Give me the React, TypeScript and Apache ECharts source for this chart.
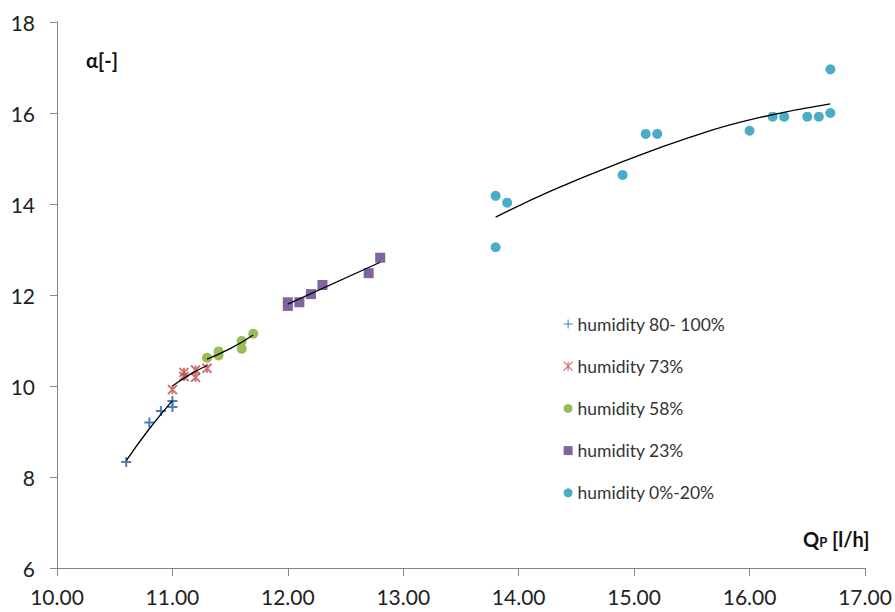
import React, { useEffect, useRef } from "react";
import * as echarts from "echarts";

// ---- data ----
const seriesNames = [
  "humidity 80- 100%",
  "humidity 73%",
  "humidity 58%",
  "humidity 23%",
  "humidity 0%-20%",
];

const humidity80to100: [number, number][] = [
  [10.6, 8.33],
  [10.8, 9.2],
  [10.9, 9.45],
  [11.0, 9.67],
  [11.0, 9.54],
];
const humidity73: [number, number][] = [
  [11.0, 9.92],
  [11.1, 10.3],
  [11.1, 10.21],
  [11.2, 10.35],
  [11.2, 10.19],
  [11.3, 10.39],
];
const humidity58: [number, number][] = [
  [11.3, 10.62],
  [11.4, 10.76],
  [11.4, 10.67],
  [11.6, 10.99],
  [11.6, 10.82],
  [11.7, 11.15],
];
const humidity23: [number, number][] = [
  [12.0, 11.76],
  [12.0, 11.84],
  [12.1, 11.84],
  [12.2, 12.02],
  [12.3, 12.22],
  [12.7, 12.48],
  [12.8, 12.82],
];
const humidity0to20: [number, number][] = [
  [13.8, 14.18],
  [13.8, 13.05],
  [13.9, 14.03],
  [14.9, 14.64],
  [15.1, 15.54],
  [15.2, 15.54],
  [16.0, 15.61],
  [16.2, 15.92],
  [16.3, 15.92],
  [16.5, 15.92],
  [16.6, 15.92],
  [16.7, 16.0],
  [16.7, 16.96],
];

// trend lines
const trend80to100: [number, number][] = [
  [10.6, 8.36],
  [10.8, 9.06],
  [11.0, 9.68],
];
const trend73: [number, number][] = [
  [11.0, 10.0],
  [11.15, 10.25],
  [11.3, 10.45],
];
const trend58: [number, number][] = [
  [11.3, 10.59],
  [11.5, 10.82],
  [11.7, 11.12],
];
const trend23: [number, number][] = [
  [12.0, 11.8],
  [12.8, 12.72],
];
const trend0to20: [number, number][] = [
  [13.8, 13.71],
  [14.3, 14.31],
  [14.9, 14.93],
  [15.5, 15.48],
  [16.0, 15.85],
  [16.7, 16.2],
];

const xMin = 10;
const xMax = 17;
const xStep = 1;
const yMin = 6;
const yMax = 18;
const yStep = 2;

const FONT = "Lato, 'Open Sans', sans-serif";
const AXIS_GRAY = "#868686";
const TEXT = "#222";

export default function App() {
  const ref = useRef<HTMLDivElement>(null);

  useEffect(() => {
    if (!ref.current) return;
    const chart = echarts.init(ref.current, undefined, { renderer: "svg" });

    const colors = ["#4A7EBB", "#C0504D", "#9BBB59", "#8064A2", "#4BACC6"];
    const symbols = [
      "path://M4,0H6V4H10V6H6V10H4V6H0V4H4Z",
      "path://M0,0L10,10M10,0L0,10M5,0L5,10",
      "circle",
      "rect",
      "circle",
    ];
    const sizes = [10, 9, 10, 10, 10];
    const datas = [humidity80to100, humidity73, humidity58, humidity23, humidity0to20];
    const trends = [trend80to100, trend73, trend58, trend23, trend0to20];

    const scatterSeries = datas.map((d, i) => {
      const isStroke = i === 1;
      return {
        name: seriesNames[i],
        type: "scatter",
        data: d,
        symbol: symbols[i],
        symbolSize: sizes[i],
        z: 3,
        itemStyle: isStroke
          ? { color: "rgba(0,0,0,0)", borderColor: colors[i], borderWidth: 2 }
          : { color: colors[i], opacity: 1 },
      };
    });

    const trendSeries = trends.map((d, i) => ({
      name: "trend" + i,
      type: "line",
      data: d,
      smooth: true,
      showSymbol: false,
      silent: true,
      z: 4,
      lineStyle: { color: "#000", width: 1.3 },
    }));

    const legendIcons = [
      "path://M4.4,0H5.6V4.4H10V5.6H5.6V10H4.4V5.6H0V4.4H4.4Z",
      "path://M0,0L10,10M10,0L0,10M5,0L5,10",
      "circle",
      "rect",
      "circle",
    ];

    chart.setOption({
      animation: false,
      backgroundColor: "#fff",
      textStyle: { fontFamily: FONT },
      grid: { left: 57, right: 30, top: 22, bottom: 44 },
      xAxis: {
        type: "value",
        min: xMin,
        max: xMax,
        interval: xStep,
        axisLine: { show: true, lineStyle: { color: AXIS_GRAY, width: 1 } },
        axisTick: { show: true, length: 8, lineStyle: { color: AXIS_GRAY } },
        splitLine: { show: false },
        axisLabel: {
          color: TEXT,
          fontSize: 21,
          fontFamily: FONT,
          margin: 18,
          formatter: (v: number) => v.toFixed(2),
        },
      },
      yAxis: {
        type: "value",
        min: yMin,
        max: yMax,
        interval: yStep,
        axisLine: { show: true, lineStyle: { color: AXIS_GRAY, width: 1 } },
        axisTick: { show: true, length: 7, lineStyle: { color: AXIS_GRAY } },
        splitLine: { show: false },
        axisLabel: {
          color: TEXT,
          fontSize: 21,
          fontFamily: FONT,
          margin: 22,
        },
      },
      legend: {
        data: seriesNames.map((n, i) => ({
          name: n,
          icon: legendIcons[i],
          itemStyle:
            i === 1
              ? { color: "rgba(0,0,0,0)", borderColor: colors[i], borderWidth: 1.2 }
              : { color: colors[i] },
        })),
        orient: "vertical",
        left: 558,
        top: 310,
        itemWidth: 9,
        itemHeight: 9,
        itemGap: 24.2,
        textStyle: { color: "#333", fontSize: 17.5, fontFamily: FONT },
      },
      graphic: [
        {
          type: "text",
          left: 86,
          top: 50,
          style: {
            text: "α[-]",
            font: `bold 20px ${FONT}`,
            fill: "#111",
          },
        },
        {
          type: "text",
          left: 803,
          top: 529,
          style: {
            text: "{a|Q}{b|P}{a| [l/h]}",
            fill: "#111",
            rich: {
              a: { fontSize: 20, fontWeight: "bold", fontFamily: FONT, fill: "#111" },
              b: {
                fontSize: 13,
                fontWeight: "bold",
                fontFamily: FONT,
                fill: "#111",
                padding: [6, 0, 0, 0],
              },
            },
          },
        },
      ],
      series: [...scatterSeries, ...trendSeries],
    });

    return () => chart.dispose();
  }, []);

  return (
    <div
      ref={ref}
      style={{ position: "fixed", left: 0, top: 0, width: 895, height: 612 }}
    />
  );
}
